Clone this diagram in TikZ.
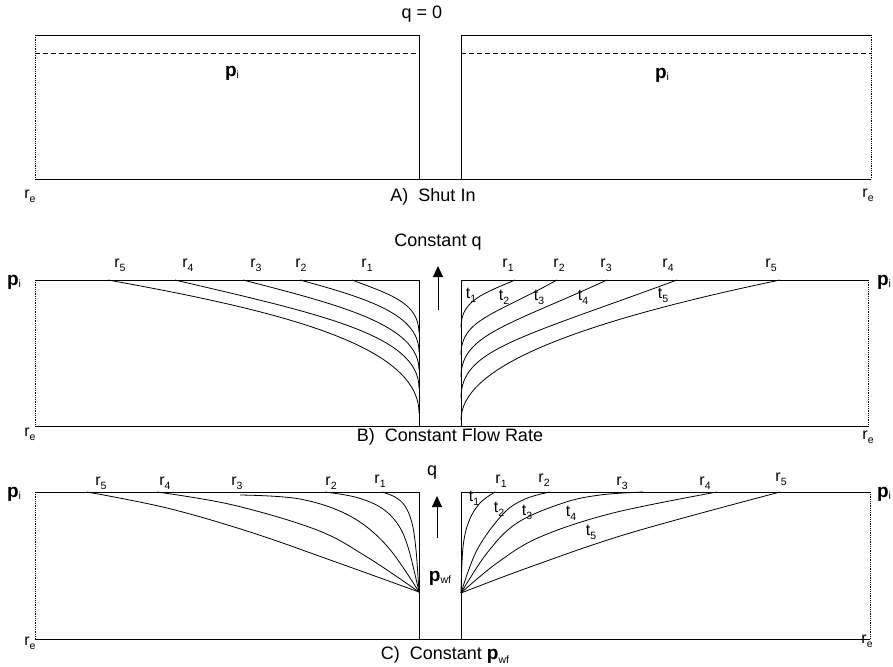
\documentclass[tikz,border=0pt]{standalone}
\usepackage{fontspec}
\setmainfont{Liberation Sans}
\usetikzlibrary{arrows.meta}
\newcommand\lsub[1]{\raisebox{-0.45ex}{\fontsize{10.5}{10.5}\selectfont #1}}
\newcommand\Pvar[1]{{\fontsize{19}{19}\selectfont\bfseries p}\lsub{#1}}
\begin{document}
\begin{tikzpicture}[x=1pt,y=-1pt,line width=0.8pt,
  lab/.style={inner sep=0pt,font=\fontsize{16}{16}\selectfont},
  captxt/.style={inner sep=0pt,font=\fontsize{18}{18}\selectfont},
  plab/.style={inner sep=0pt},
  dotb/.style={line width=0.9pt,dash pattern=on 0.7pt off 1.1pt},
  dashb/.style={dash pattern=on 5pt off 3pt},
  curve/.style={line width=0.8pt},
  flow/.style={line width=0.9pt,-{Triangle[length=11pt,width=10pt]}}]
\useasboundingbox (0,0) rectangle (893,666);

% ---------- Panel A ----------
\draw (35,35) -- (419,35) -- (419,179);
\draw (461,179) -- (461,35) -- (871,35);
\draw (35,179) -- (871,179);
\draw[dotb] (35,35) -- (35,179);
\draw[dotb] (871,35) -- (871,179);
\draw[dashb] (35,53) -- (419,53);
\draw[dashb] (461,53) -- (871,53);
\node[captxt] (qzero) at (422,14) {q = 0};
\node[plab] (piAL) at (232,73) {\Pvar{i}};
\node[plab] (piAR) at (662,75) {\Pvar{i}};
\node[lab] (reAL) at (30,196) {r\lsub{e}};
\node[lab] (reAR) at (868,195) {r\lsub{e}};
\node[captxt] (capA) at (433,197) {A)\ \ Shut In};

% ---------- Panel B ----------
\draw (35,280) -- (419,280) -- (419,426);
\draw (461,426) -- (461,280) -- (868,280);
\draw (35,426) -- (868,426);
\draw[dotb] (35,280) -- (35,426);
\draw[dotb] (868,280) -- (868,426);
\node[captxt] (cq) at (438,242) {Constant q};
\coordinate (bArrLo) at (438,310);
\coordinate (bArrHi) at (438,266);
\draw[flow] (bArrLo) -- (bArrHi);
\node[plab] (piBL) at (14,282) {\Pvar{i}};
\node[plab] (piBR) at (884,282) {\Pvar{i}};
\node[lab] (reBL) at (30,434) {r\lsub{e}};
\node[lab] (reBR) at (868,437) {r\lsub{e}};
\node[captxt] (capB) at (450,437) {B)\ \ Constant Flow Rate};
% left curves
\draw[curve] (352,280) .. controls (392,295) and (418,303) .. (419,332);
\draw[curve] (300,280) .. controls (370,299) and (419,315) .. (419,352);
\draw[curve] (243,280) .. controls (340,305) and (419,325) .. (419,370);
\draw[curve] (175,280) .. controls (320,314) and (419,335) .. (419,388);
\draw[curve] (108,280) .. controls (280,311) and (419,345) .. (419,413);
\node[lab] (rB5) at (120,265) {r\lsub{5}};
\node[lab] (rB4) at (188,265) {r\lsub{4}};
\node[lab] (rB3) at (256,265) {r\lsub{3}};
\node[lab] (rB2) at (301,265) {r\lsub{2}};
\node[lab] (rB1) at (367,265) {r\lsub{1}};
% right curves
\draw[curve] (461,327) .. controls (461,300) and (485,293) .. (515,280);
\draw[curve] (461,355) .. controls (461,320) and (492,316) .. (557,280);
\draw[curve] (461,377) .. controls (461,335) and (507,326) .. (607,280);
\draw[curve] (461,398) .. controls (461,350) and (517,339) .. (677,280);
\draw[curve] (461,420) .. controls (461,370) and (560,326) .. (780,280);
\node[lab] (rBr1) at (508,265) {r\lsub{1}};
\node[lab] (rBr2) at (559,265) {r\lsub{2}};
\node[lab] (rBr3) at (606,265) {r\lsub{3}};
\node[lab] (rBr4) at (668,265) {r\lsub{4}};
\node[lab] (rBr5) at (771,265) {r\lsub{5}};
\node[lab] (tB1) at (471,295) {t\lsub{1}};
\node[lab] (tB2) at (504,297) {t\lsub{2}};
\node[lab] (tB3) at (539,297) {t\lsub{3}};
\node[lab] (tB4) at (583,297) {t\lsub{4}};
\node[lab] (tB5) at (663,295) {t\lsub{5}};

% ---------- Panel C ----------
\draw (35,492) -- (419,492) -- (419,639);
\draw (461,639) -- (461,492) -- (870,492);
\draw (35,639) -- (870,639);
\draw[dotb] (35,492) -- (35,639);
\draw[dotb] (870,492) -- (870,639);
\coordinate (pwfL) at (419,592);
\coordinate (pwfR) at (461,593);
\node[captxt] (qC) at (432,473) {q};
\coordinate (cArrLo) at (437,538);
\coordinate (cArrHi) at (437,496);
\draw[flow] (cArrLo) -- (cArrHi);
\node[plab] (pwfLab) at (440,578) {\Pvar{wf}};
\node[plab] (piCL) at (14,494) {\Pvar{i}};
\node[plab] (piCR) at (884,494) {\Pvar{i}};
\node[lab] (reCL) at (30,643) {r\lsub{e}};
\node[lab] (reCR) at (867,641) {r\lsub{e}};
\node[captxt,anchor=base] (capC) at (445,659) {C)\ \ Constant \Pvar{wf}};
% left curves
\draw[curve] plot[smooth,tension=0.6] coordinates {(382,492) (395,497) (405,506) (412,523) (416,550) (pwfL)};
\draw[curve] plot[smooth,tension=0.6] coordinates {(325,492) (355,497) (380,507) (397,523) (408,547) (pwfL)};
\draw[curve] plot[smooth,tension=0.6] coordinates {(240,495) (300,499) (350,516) (387,546) (pwfL)};
\draw[curve] plot[smooth,tension=0.6] coordinates {(157,492) (233,505) (317,530) (367,557) (pwfL)};
\draw[curve] plot[smooth,tension=0.6] coordinates {(87,492) (167,508) (250,532) (333,561) (pwfL)};
\node[lab] (rC5) at (101,483) {r\lsub{5}};
\node[lab] (rC4) at (165,483) {r\lsub{4}};
\node[lab] (rC3) at (237,483) {r\lsub{3}};
\node[lab] (rC2) at (331,483) {r\lsub{2}};
\node[lab] (rC1) at (380,481) {r\lsub{1}};
% right curves
\draw[curve] plot[smooth,tension=0.6] coordinates {(pwfR) (463,547) (469,521) (480,503) (495,492)};
\draw[curve] plot[smooth,tension=0.6] coordinates {(pwfR) (477,550) (503,514) (525,499) (550,492)};
\draw[curve] plot[smooth,tension=0.6] coordinates {(pwfR) (487,553) (517,523) (563,503) (600,495) (643,492)};
\draw[curve] plot[smooth,tension=0.6] coordinates {(pwfR) (497,563) (540,537) (613,513) (717,492)};
\draw[curve] plot[smooth,tension=0.6] coordinates {(pwfR) (530,567) (630,533) (780,492)};
\node[lab] (rCr1) at (501,481) {r\lsub{1}};
\node[lab] (rCr2) at (544,480) {r\lsub{2}};
\node[lab] (rCr3) at (622,483) {r\lsub{3}};
\node[lab] (rCr4) at (705,483) {r\lsub{4}};
\node[lab] (rCr5) at (781,479) {r\lsub{5}};
\node[lab] (tC1) at (474,498) {t\lsub{1}};
\node[lab] (tC2) at (499,509) {t\lsub{2}};
\node[lab] (tC3) at (527,512) {t\lsub{3}};
\node[lab] (tC4) at (571,513) {t\lsub{4}};
\node[lab] (tC5) at (591,532) {t\lsub{5}};
\end{tikzpicture}
\end{document}
